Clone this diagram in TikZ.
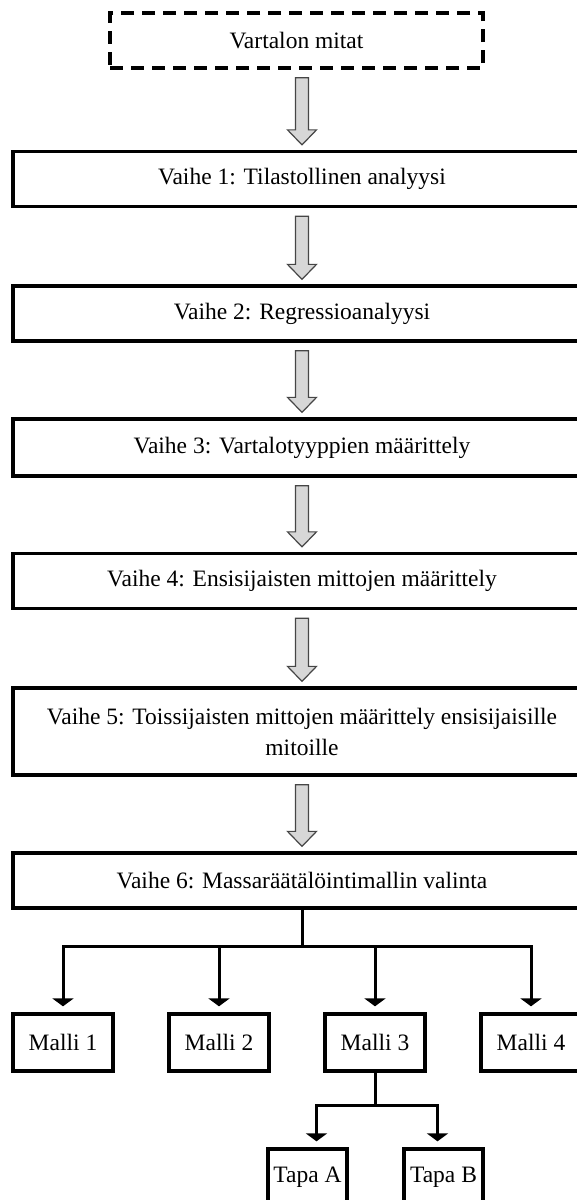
\documentclass[tikz,border=0pt]{standalone}
\usepackage{fontspec}
\setmainfont{Liberation Serif}
\usepackage{tikz}
\usetikzlibrary{arrows.meta,calc}
\definecolor{nuoli}{RGB}{215,215,215}
\definecolor{reuna}{RGB}{70,70,70}

\begin{document}
\begin{tikzpicture}[x=1pt,y=-1pt,
    vaihe/.style={draw,line width=3.3pt,minimum width=578pt,minimum height=55pt,inner sep=2pt,
                  align=center,font=\fontsize{23.5}{31}\selectfont},
    malli/.style={draw,line width=3.3pt,minimum width=100pt,minimum height=57pt,inner sep=2pt,
                  font=\fontsize{23.5}{28}\selectfont},
    haara/.style={line width=3pt,-{Triangle[width=21pt,length=8pt]},shorten >=6pt}]
  \clip (0,0) rectangle (577,1200);
  % vaiheet
  \node[vaihe,dash pattern=on 13pt off 8pt,minimum width=373pt] (v0) at (296.5,40.5) {Vartalon mitat};
  \node[vaihe] (v1) at (302,179) {Vaihe 1: Tilastollinen analyysi};
  \node[vaihe] (v2) at (302,313.5) {Vaihe 2: Regressioanalyysi};
  \node[vaihe,minimum height=57pt] (v3) at (302,447.5) {Vaihe 3: Vartalotyyppien määrittely};
  \node[vaihe] (v4) at (302,581) {Vaihe 4: Ensisijaisten mittojen määrittely};
  \node[vaihe,minimum height=87pt] (v5) at (302,731.5) {Vaihe 5: Toissijaisten mittojen määrittely ensisijaisille\\ mitoille};
  \node[vaihe] (v6) at (302,880.5) {Vaihe 6: Massaräätälöintimallin valinta};
  \foreach \a/\b in {v0/v1,v1/v2,v2/v3,v3/v4,v4/v5,v5/v6}{
    \filldraw[fill=nuoli,draw=reuna,line width=1.2pt]
      ($(\a.south -| \b.north)+(-6.5,8)$) -- ($(\b.north)+(-6.5,-20)$) -- ($(\b.north)+(-14.5,-20)$)
      -- ($(\b.north)+(0,-5)$) -- ($(\b.north)+(14.5,-20)$) -- ($(\b.north)+(6.5,-20)$)
      -- ($(\a.south -| \b.north)+(6.5,8)$) -- cycle;
  }
  % mallit
  \node[malli] (m1) at (63,1042.5) {Malli 1};
  \node[malli] (m2) at (219,1042.5) {Malli 2};
  \node[malli] (m3) at (375,1042.5) {Malli 3};
  \node[malli] (m4) at (531,1042.5) {Malli 4};
  \node[malli,minimum width=79pt] (ta) at (307.5,1177.5) {Tapa A};
  \node[malli,minimum width=79pt] (tb) at (443.5,1177.5) {Tapa B};
  \draw[line width=3pt] (v6.south) -- ++(0,37) coordinate (jako);
  \foreach \m in {m1,m2,m3,m4}{\draw[haara] (jako) -| (\m.north);}
  \draw[line width=3pt] (m3.south) -- ++(0,33) coordinate (jako2);
  \draw[haara] (jako2) -| ([xshift=9pt]ta.north);
  \draw[haara] (jako2) -| ([xshift=-6pt]tb.north);
\end{tikzpicture}
\end{document}
